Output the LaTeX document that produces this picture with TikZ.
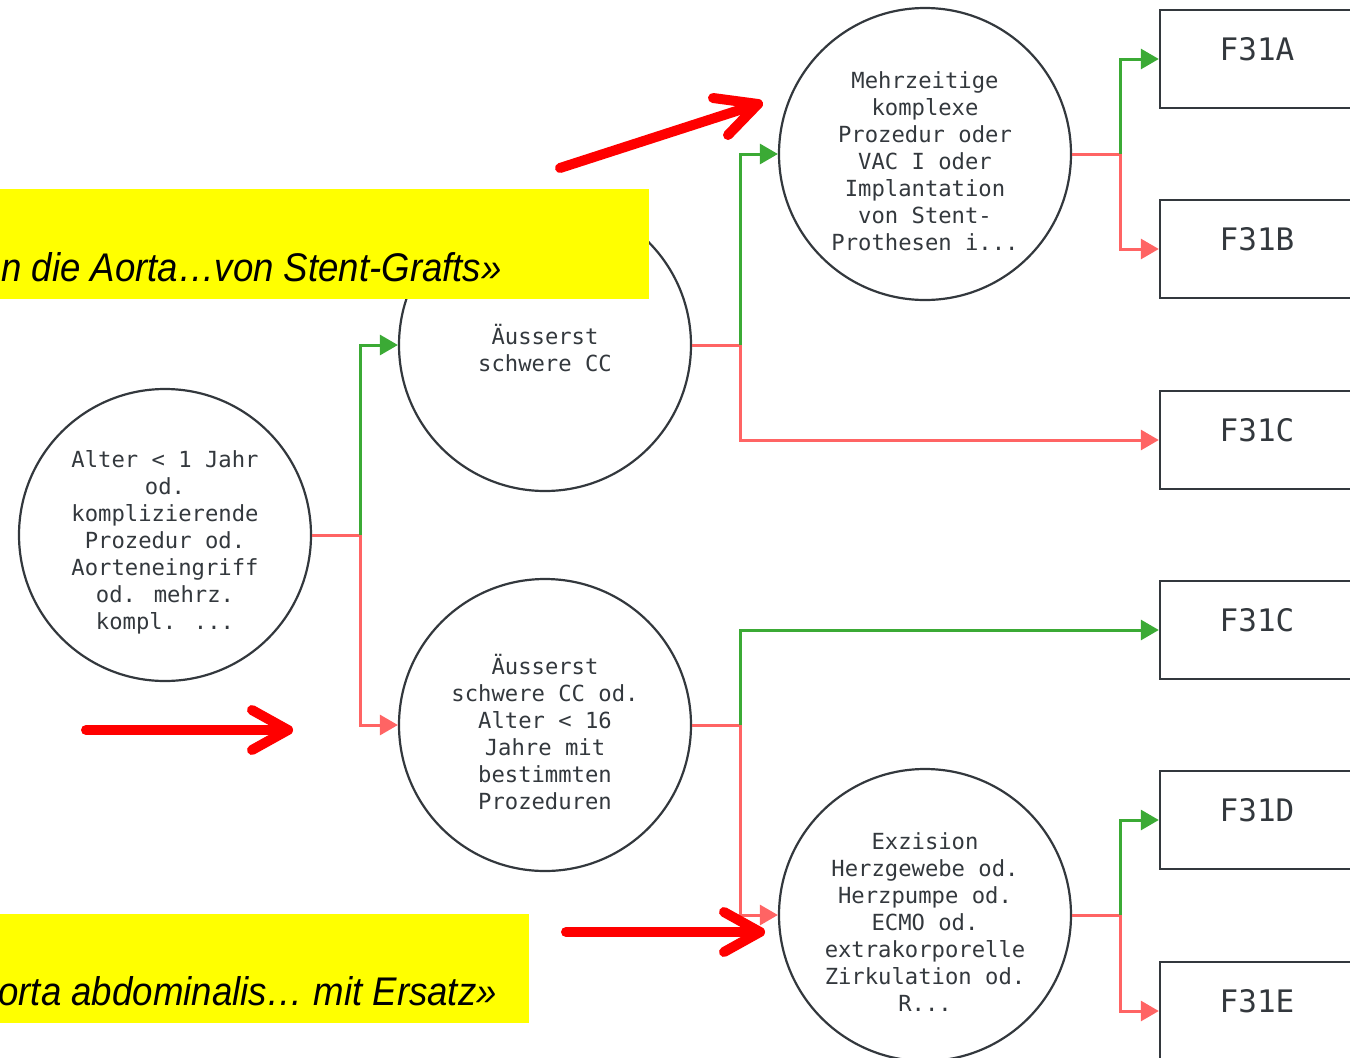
\documentclass[tikz,border=0pt]{standalone}
\usepackage{fontspec}
\setmainfont{Liberation Sans}
\newfontfamily\monofont{DejaVu Sans Mono}
\newfontfamily\notefont[FakeStretch=0.915]{Liberation Sans}
\usetikzlibrary{arrows.meta}

\definecolor{yesgreen}{HTML}{3BAA35}
\definecolor{nored}{HTML}{FF6464}
\definecolor{inkgray}{HTML}{33383D}
\definecolor{hilite}{HTML}{FFFF00}
\definecolor{alertred}{HTML}{FF0000}

\begin{document}
\begin{tikzpicture}[x=1pt,y=-1pt,
  cond/.style={circle, draw=inkgray, line width=2.2pt, minimum size=292pt, inner sep=0pt},
  condtext/.style={align=center, inner sep=0pt, font=\monofont\fontsize{22.2}{27}\selectfont, text=inkgray},
  leaf/.style={rectangle, draw=inkgray, line width=2.4pt, minimum width=194pt, minimum height=98pt,
    inner sep=0pt, font=\monofont\fontsize{31}{31}\selectfont, text=inkgray,
    text height=23pt, text depth=20pt},
  wire/.style={line width=3pt},
  yes/.style={wire, draw=yesgreen, -{Triangle[length=18pt,width=20pt]}},
  no/.style={wire, draw=nored, -{Triangle[length=18pt,width=20pt]}},
  nowire/.style={wire, draw=nored},
  bigarrow/.style={draw=alertred, line width=10pt, line cap=round, line join=round},
  note/.style={font=\notefont\fontsize{40}{40}\selectfont\itshape, inner sep=0pt}
]
\clip (0,0) rectangle (1350,1058);

% decision nodes
\node[cond] (root) at (165,535) {};
\node[cond] (cc) at (545,345) {};
\node[cond] (cc16) at (545,725) {};
\node[cond] (mehr) at (925,154) {};
\node[cond] (exz) at (925,915) {};

% their conditions, set a little below the centre
\node[condtext] (rootT) at ([yshift=-7pt]root.center) {Alter < 1 Jahr\\od.\\komplizierende\\Prozedur od.\\Aorteneingriff\\od. mehrz.\\kompl. ...};
\node[condtext] (ccT) at ([yshift=-3pt]cc.center) {Äusserst\\schwere CC};
\node[condtext] (cc16T) at ([yshift=-7pt]cc16.center) {Äusserst\\schwere CC od.\\Alter < 16\\Jahre mit\\bestimmten\\Prozeduren};
\node[condtext] (mehrT) at ([yshift=-7pt]mehr.center) {Mehrzeitige\\komplexe\\Prozedur oder\\VAC I oder\\Implantation\\von Stent-\\Prothesen i...};
\node[condtext] (exzT) at ([yshift=-7pt]exz.center) {Exzision\\Herzgewebe od.\\Herzpumpe od.\\ECMO od.\\extrakorporelle\\Zirkulation od.\\R...};

% result groups
\node[leaf] (fa) at (1257,59) {F31A};
\node[leaf] (fb) at (1257,249) {F31B};
\node[leaf] (fc1) at (1257,440) {F31C};
\node[leaf] (fc2) at (1257,630) {F31C};
\node[leaf] (fd) at (1257,820) {F31D};
\node[leaf] (fe) at (1257,1011) {F31E};

% branches: green = yes, red = no
\draw[nowire] (root.east) -- ++(48,0) coordinate (j1);
\draw[yes] (j1) |- (cc.west);
\draw[no] (j1) |- (cc16.west);

\draw[nowire] (cc.east) -- ++(48,0) coordinate (j2);
\draw[yes] (j2) |- (mehr.west);
\draw[no] (j2) |- (fc1.west);

\draw[nowire] (cc16.east) -- ++(48,0) coordinate (j3);
\draw[yes] (j3) |- (fc2.west);
\draw[no] (j3) |- (exz.west);

\draw[nowire] (mehr.east) -- ++(48,0) coordinate (j4);
\draw[yes] (j4) |- (fa.west);
\draw[no] (j4) |- (fb.west);

\draw[nowire] (exz.east) -- ++(48,0) coordinate (j5);
\draw[yes] (j5) |- (fd.west);
\draw[no] (j5) |- (fe.west);

% highlighted notes
\path[fill=hilite] (0,189) rectangle (649,299);
\node[note, anchor=base west] (noteA) at (1,281) {n die Aorta…von Stent-Grafts»};
\path[fill=hilite] (0,914) rectangle (529,1023);
\node[note, anchor=base east] (noteB) at (497,1005) {orta abdominalis… mit Ersatz»};

% pointer arrows
\coordinate (p1t) at (560,168);
\coordinate (p1h) at (758,104);
\coordinate (p1a) at (713,98);
\coordinate (p1b) at (728,135);
\draw[bigarrow] (p1t) -- (p1h);
\draw[bigarrow] (p1a) -- (p1h) -- (p1b);

\coordinate (p2t) at (86,730);
\coordinate (p2h) at (288,730);
\coordinate (p2a) at (252,710);
\coordinate (p2b) at (252,750);
\draw[bigarrow] (p2t) -- (p2h);
\draw[bigarrow] (p2a) -- (p2h) -- (p2b);

\coordinate (p3t) at (566,932);
\coordinate (p3h) at (760,932);
\coordinate (p3a) at (724,912);
\coordinate (p3b) at (724,952);
\draw[bigarrow] (p3t) -- (p3h);
\draw[bigarrow] (p3a) -- (p3h) -- (p3b);
\end{tikzpicture}
\end{document}
